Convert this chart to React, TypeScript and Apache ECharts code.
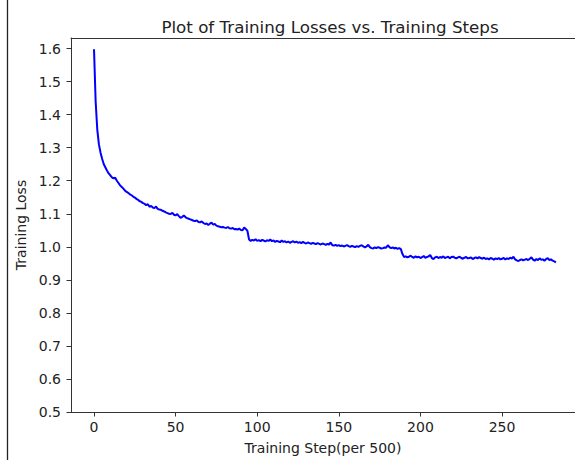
import React, { useEffect, useRef } from "react";
import * as echarts from "echarts";

const chartTitle = "Plot of Training Losses vs. Training Steps";
const xAxisName = "Training Step(per 500)";
const yAxisName = "Training Loss";

const xTicks = [0, 50, 100, 150, 200, 250];
const yTicks = [0.5, 0.6, 0.7, 0.8, 0.9, 1.0, 1.1, 1.2, 1.3, 1.4, 1.5, 1.6];

// steps 0..94
const lossPhase1 = [
  1.598, 1.44, 1.355, 1.31, 1.285, 1.266, 1.25, 1.24, 1.23, 1.222,
  1.216, 1.21, 1.207, 1.209, 1.2, 1.193, 1.186, 1.181, 1.176, 1.17,
  1.166, 1.163, 1.159, 1.156, 1.152, 1.149, 1.145, 1.142, 1.138, 1.136,
  1.132, 1.13, 1.126, 1.129, 1.121, 1.124, 1.119, 1.117, 1.122, 1.115,
  1.113, 1.112, 1.109, 1.107, 1.104, 1.102, 1.1, 1.099, 1.103, 1.097,
  1.095, 1.099, 1.093, 1.088, 1.09, 1.095, 1.09, 1.087, 1.085, 1.083,
  1.081, 1.079, 1.078, 1.08, 1.075, 1.074, 1.077, 1.072, 1.069, 1.071,
  1.066, 1.07, 1.073, 1.067, 1.069, 1.064, 1.062, 1.061, 1.059, 1.06,
  1.058, 1.057, 1.06, 1.056, 1.055, 1.057, 1.053, 1.054, 1.052, 1.055,
  1.051, 1.05, 1.058, 1.054, 1.048,
];

// steps 95..188
const lossPhase2 = [
  1.022, 1.018, 1.021, 1.019, 1.023, 1.018, 1.02, 1.017, 1.021, 1.019,
  1.016, 1.02, 1.018, 1.022, 1.017, 1.019, 1.015, 1.018, 1.016, 1.014,
  1.019, 1.015, 1.017, 1.013, 1.016, 1.012, 1.015, 1.017, 1.013, 1.016,
  1.012, 1.014, 1.011, 1.015, 1.012, 1.01, 1.013, 1.011, 1.009, 1.012,
  1.01, 1.008, 1.011, 1.009, 1.007, 1.01, 1.008, 1.006, 1.009, 1.007,
  1.013, 1.005, 1.004, 1.006, 1.003, 1.005, 1.002, 1.004, 1.001, 1.003,
  1.005, 1.002, 1.0, 1.003, 1.001, 0.999, 1.002, 1.0, 1.003, 1.005,
  1.001, 0.998, 1.001, 1.006, 0.999, 0.996, 0.995, 0.998, 0.996, 0.999,
  0.997, 0.995, 0.996, 0.998, 0.997, 1.005, 0.999, 0.996, 0.998, 0.995,
  0.997, 0.994, 0.996, 0.993,
];

// steps 189..283
const lossPhase3 = [
  0.978, 0.969, 0.971, 0.968, 0.97, 0.973, 0.969, 0.967, 0.971, 0.968,
  0.97, 0.966, 0.969, 0.972, 0.967, 0.969, 0.971, 0.975, 0.966, 0.963,
  0.968, 0.97, 0.966, 0.969, 0.967, 0.971, 0.966, 0.968, 0.97, 0.965,
  0.969, 0.97, 0.967, 0.965, 0.968, 0.97, 0.966, 0.964, 0.967, 0.969,
  0.965, 0.966, 0.968, 0.963, 0.966, 0.968, 0.965, 0.969, 0.966, 0.964,
  0.967, 0.963, 0.965, 0.962, 0.966, 0.964, 0.961, 0.965, 0.963, 0.966,
  0.962, 0.964, 0.966, 0.962, 0.965, 0.963, 0.967, 0.964, 0.97, 0.962,
  0.959, 0.957, 0.96, 0.962, 0.959, 0.961, 0.963, 0.96, 0.964, 0.968,
  0.961, 0.958, 0.963, 0.96, 0.965, 0.961, 0.962, 0.958, 0.963, 0.966,
  0.96, 0.962, 0.958, 0.956, 0.953,
];

const trainingLoss = [...lossPhase1, ...lossPhase2, ...lossPhase3];

const FONT = "DejaVu Sans";
const TEXT = "#222";
const AXIS = "#333";

export default function App() {
  const ref = useRef<HTMLDivElement>(null);

  useEffect(() => {
    if (!ref.current) return;
    const chart = echarts.init(ref.current, undefined, { renderer: "svg" });
    const xMin = -14.1;
    const xMax = 294.7;
    chart.setOption({
      animation: false,
      backgroundColor: "#ffffff",
      textStyle: { fontFamily: FONT },
      title: {
        text: chartTitle,
        left: 325,
        top: 13,
        textAlign: "center",
        textStyle: { fontFamily: FONT, fontSize: 16.7, fontWeight: "normal", color: TEXT },
      },
      grid: { left: 71, right: 0, top: 38, height: 379, containLabel: false },
      xAxis: [
        {
          type: "value",
          min: xMin,
          max: xMax,
          name: xAxisName,
          nameLocation: "middle",
          nameGap: 29,
          nameTextStyle: { fontFamily: FONT, fontSize: 14, color: TEXT },
          axisLine: { show: true, lineStyle: { color: AXIS, width: 1 } },
          axisTick: { show: true, length: 4.5, customValues: xTicks, lineStyle: { color: AXIS } },
          axisLabel: {
            customValues: xTicks,
            fontFamily: FONT,
            fontSize: 14,
            color: TEXT,
            margin: 8,
            formatter: (v: number) => String(v),
          },
          splitLine: { show: false },
        },
        {
          type: "value",
          position: "top",
          min: xMin,
          max: xMax,
          axisLine: { show: true, onZero: false, lineStyle: { color: AXIS, width: 1 } },
          axisTick: { show: false },
          axisLabel: { show: false },
          splitLine: { show: false },
        },
      ],
      yAxis: {
        type: "value",
        min: 0.5,
        max: 1.632,
        name: yAxisName,
        nameLocation: "middle",
        nameGap: 37,
        nameTextStyle: { fontFamily: FONT, fontSize: 14, color: TEXT },
        axisLine: { show: true, onZero: false, lineStyle: { color: AXIS, width: 1 } },
        axisTick: { show: true, length: 4.5, customValues: yTicks, lineStyle: { color: AXIS } },
        axisLabel: {
          customValues: yTicks,
          fontFamily: FONT,
          fontSize: 14,
          color: TEXT,
          margin: 10,
          formatter: (v: number) => v.toFixed(1),
        },
        splitLine: { show: false },
      },
      graphic: [
        {
          type: "line",
          shape: { x1: 7.5, y1: 0, x2: 7.5, y2: 460 },
          style: { stroke: "#222", lineWidth: 1.3 },
        },
      ],
      series: [
        {
          type: "line",
          xAxisIndex: 0,
          data: trainingLoss.map((v, i) => [i, v]),
          showSymbol: false,
          symbol: "none",
          lineStyle: { color: "#0000ff", width: 2 },
        },
      ],
    });
    return () => chart.dispose();
  }, []);

  return (
    <div
      ref={ref}
      style={{ position: "fixed", left: 0, top: 0, width: 575, height: 460, background: "#fff" }}
    />
  );
}
